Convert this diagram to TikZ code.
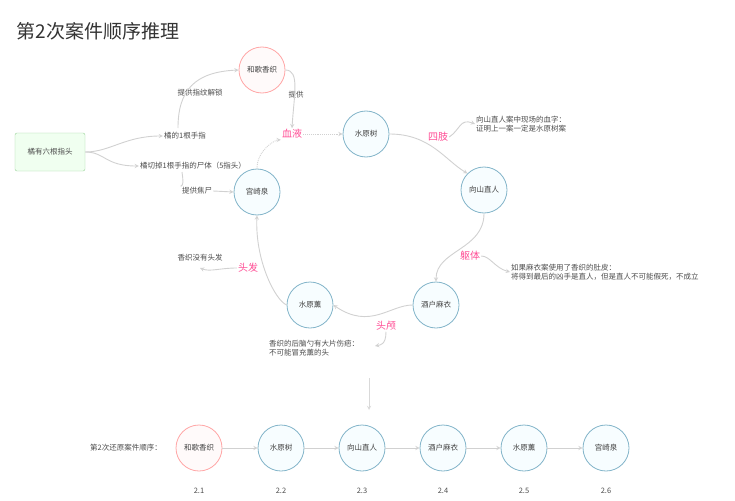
\documentclass[tikz,border=0pt]{standalone}
\usepackage{fontspec}
\setmainfont{Noto Sans CJK SC}
\begin{document}
\begin{tikzpicture}[x=1pt,y=-1pt,
  circ/.style={circle,draw=blue!30!cyan!40!gray!70,line width=0.8pt,fill=cyan!3,minimum size=46pt,inner sep=0pt,font=\fontsize{7.5}{9}\selectfont,text=black!75},
  pcirc/.style={circ,draw=red!35,fill=red!2},
  lbl/.style={font=\fontsize{7.5}{9}\selectfont,text=black!70,inner sep=1pt},
  key/.style={font=\fontsize{10}{12}\selectfont,text=red!60!magenta!70,inner sep=1pt},
  note/.style={lbl,align=left,anchor=west},
  con/.style={draw=black!18,line width=0.9pt,->,>=stealth},
  dcon/.style={con,densely dotted}]
\useasboundingbox (0,0) rectangle (735,500);
\node[anchor=west,font=\fontsize{19}{22}\selectfont,text=black!80] (title) at (13,31) {第2次案件顺序推理};
\node[draw=green!55!black!40,fill=green!6,rounded corners=2pt,minimum width=70pt,minimum height=38pt,lbl] (g) at (50,152) {橘有六根指头};
\node[pcirc] (hg) at (262,70) {和歌香织};
\node[circ] (ss) at (366,134) {水原树};
\node[circ] (xs) at (484,190) {向山直人};
\node[circ] (jh) at (436,305) {酒户麻衣};
\node[circ] (sx) at (310,305) {水原薰};
\node[circ] (gq) at (257,192) {宫崎泉};
\node[lbl] (l1) at (185,136) {橘的1根手指};
\node[lbl] (l2) at (193,166) {橘切掉1根手指的尸体（5指头）};
\node[lbl] (l3) at (200,93) {提供指纹解锁};
\node[lbl] (l4) at (197,191) {提供焦尸};
\node[lbl] (l5) at (296,95) {提供};
\node[key] (k1) at (292,134) {血液};
\node[key] (k2) at (438,137) {四肢};
\node[key] (k3) at (470,256) {躯体};
\node[key] (k4) at (386,326) {头颅};
\node[key] (k5) at (248,268) {头发};
\node[note] (n1) at (475,124) {向山直人案中现场的血字：\\证明上一案一定是水原树案};
\node[note] (n2) at (510,272) {如果麻衣案使用了香织的肚皮：\\将得到最后的凶手是直人，但是直人不可能假死，不成立};
\node[note] (n3) at (268,348) {香织的后脑勺有大片伤疤：\\不可能冒充薰的头};
\node[lbl] (n4) at (200,258) {香织没有头发};
\draw[con] (g.east) .. controls (110,152) and (125,136) .. (l1.west);
\draw[con] (g.east) .. controls (105,152) and (105,166) .. (l2.west);
\draw[con] (178,128) .. controls (178,90) and (195,72) .. (hg.west);
\draw[draw=black!18,line width=0.9pt] (182,172) .. controls (183,180) and (184,185) .. (l4.north west);
\draw[con] (l4.east) -- (gq.west);
\draw[con] (hg.east) .. controls (300,70) and (294,95) .. (k1.north);
\draw[dcon] (k1.east) -- (ss.west);
\draw[dcon] (gq.north) .. controls (257,150) and (275,140) .. (k1.south west);
\draw[con] (ss.east) .. controls (430,134) and (445,160) .. (xs.north west);
\draw[con] (k2.east) .. controls (460,130) and (460,118) .. (n1.west);
\draw[con] (xs.south) .. controls (484,250) and (436,250) .. (jh.north);
\draw[con] (k3.east) .. controls (490,256) and (495,268) .. (n2.west);
\draw[con] (jh.west) .. controls (390,305) and (370,330) .. (sx.east);
\draw[con] (k4.south) .. controls (386,345) and (380,345) .. (375,346);
\draw[con] (sx.west) .. controls (275,300) and (255,260) .. (gq.south);
\draw[con] (k5.west) .. controls (220,268) and (210,272) .. (200,268);
\coordinate (a1) at (369,378); \coordinate (a2) at (369,410);
\draw[con,black!15] (a1) -- (a2);
\node[lbl,anchor=east] (seq) at (163,448) {第2次还原案件顺序：};
\foreach \n/\x/\t/\s in {b1/199/和歌香织/pcirc,b2/281/水原树/circ,b3/362/向山直人/circ,b4/443/酒户麻衣/circ,b5/524/水原薰/circ,b6/606/宫崎泉/circ}{
  \node[\s] (\n) at (\x,448) {\t};
}
\foreach \a/\b in {b1/b2,b2/b3,b3/b4,b4/b5,b5/b6}{\draw[con] (\a) -- (\b);}
\foreach \x/\t in {199/2.1,281/2.2,362/2.3,443/2.4,524/2.5,606/2.6}{
  \node[lbl] (num\t) at (\x,491) {\t};
}
\end{tikzpicture}
\end{document}
